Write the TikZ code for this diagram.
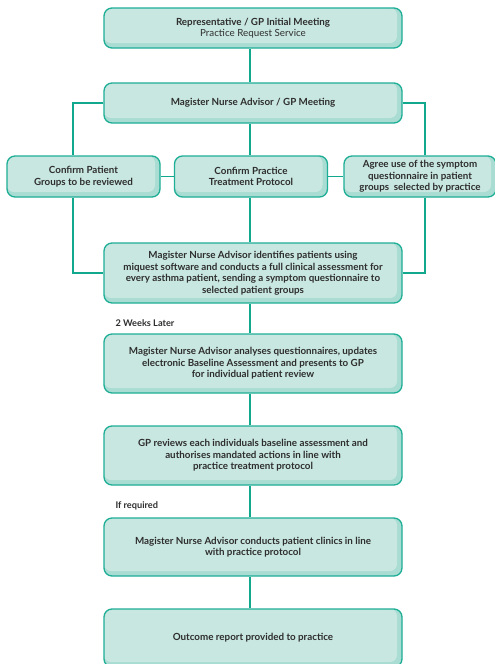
\documentclass[tikz,border=0pt]{standalone}
\usepackage{fontspec}
\setmainfont{Lato}
\usepackage{tikz}
\usetikzlibrary{positioning, calc}
\usepackage{xcolor}
\definecolor{FlowTeal}{HTML}{1EAE96}
\definecolor{FlowLine}{HTML}{12A88E}
\definecolor{FlowShade}{HTML}{A9DCD2}
\definecolor{FlowFill}{HTML}{C8E7E0}
\definecolor{FlowText}{HTML}{2E2E2E}
\tikzset{
    % Box styles - rounded corners with a shaded rim
    flowbox/.style={
        rectangle,
        rounded corners=8pt,
        draw=FlowTeal,
        fill=FlowShade,
        line width=1.3pt,
        minimum width=298pt,
        minimum height=40pt,
        inner sep=1pt,
        align=center,
        text=FlowText,
        font=\bfseries\fontsize{9.8}{11.5}\selectfont,
        path picture={
            \fill[FlowFill, rounded corners=7pt]
                (path picture bounding box.north west) rectangle
                ([shift={(-5pt,5pt)}]path picture bounding box.south east);
        }
    },
    smallbox/.style={
        flowbox,
        minimum width=153pt,
        minimum height=41pt
    },
    % Label style
    notelabel/.style={
        anchor=west,
        text=FlowText,
        font=\bfseries\fontsize{9.2}{10}\selectfont
    },
    % Connector style - straight lines only
    linkline/.style={
        line width=1.6pt,
        draw=FlowLine
    }
}
\begin{document}
\begin{tikzpicture}[x=1pt, y=-1pt]
    \useasboundingbox (0,0) rectangle (495,664);

    \node[flowbox] (initial) at (253,28) {Representative / GP Initial Meeting\\{\mdseries Practice Request Service}};

    \node[flowbox] (meeting) at (253,103) {Magister Nurse Advisor / GP Meeting};

    \node[smallbox] (groups) at (83.5,176.5) {Confirm Patient\\Groups to be reviewed};
    \node[smallbox] (protocol) at (251,176.5) {Confirm Practice\\Treatment Protocol};
    \node[smallbox, minimum width=152pt] (agree) at (420,176.5) {Agree use of the symptom\\questionnaire in patient\\groups\ \ selected by practice};

    \node[flowbox, minimum height=60pt] (identify) at (253,273) {Magister Nurse Advisor identifies patients using\\miquest software and conducts a full clinical assessment for\\every asthma patient, sending a symptom questionnaire to\\selected patient groups};

    \node[notelabel] (weeks) at (112,323) {2 Weeks Later};

    \node[flowbox, minimum height=59pt] (analyse) at (253,363.5) {Magister Nurse Advisor analyses questionnaires, updates\\electronic Baseline Assessment and presents to GP\\for individual patient review};

    \node[flowbox, minimum height=59pt] (review) at (253,455.5) {GP reviews each individuals baseline assessment and\\authorises mandated actions in line with\\practice treatment protocol};

    \node[notelabel] (ifreq) at (112,506) {If required};

    \node[flowbox, minimum height=58pt] (clinics) at (253,547) {Magister Nurse Advisor conducts patient clinics in line\\with practice protocol};

    \node[flowbox, minimum height=58pt] (outcome) at (253,638) {Outcome report provided to practice};

    \draw[linkline] (initial.south -| 250,0) -- (meeting.north -| 250,0);
    \draw[linkline] (meeting.west) -| ([xshift=-10.5pt]groups.north);
    \draw[linkline] (meeting.east) -| ([xshift=5pt]agree.north);
    \draw[linkline] (meeting.south -| 250,0) -- (protocol.north -| 250,0);
    \draw[linkline] (groups) -- (protocol);
    \draw[linkline] (protocol) -- (agree);
    \draw[linkline] ([xshift=-10.5pt]groups.south) |- (identify.west);
    \draw[linkline] ([xshift=5pt]agree.south) |- (identify.east);
    \draw[linkline] (protocol.south -| 250,0) -- (identify.north -| 250,0);
    \draw[linkline] (identify.south -| 250,0) -- (analyse.north -| 250,0);
    \draw[linkline] (analyse.south -| 250,0) -- (review.north -| 250,0);
    \draw[linkline] (review.south -| 250,0) -- (clinics.north -| 250,0);
    \draw[linkline] (clinics.south -| 250,0) -- (outcome.north -| 250,0);
\end{tikzpicture}
\end{document}
